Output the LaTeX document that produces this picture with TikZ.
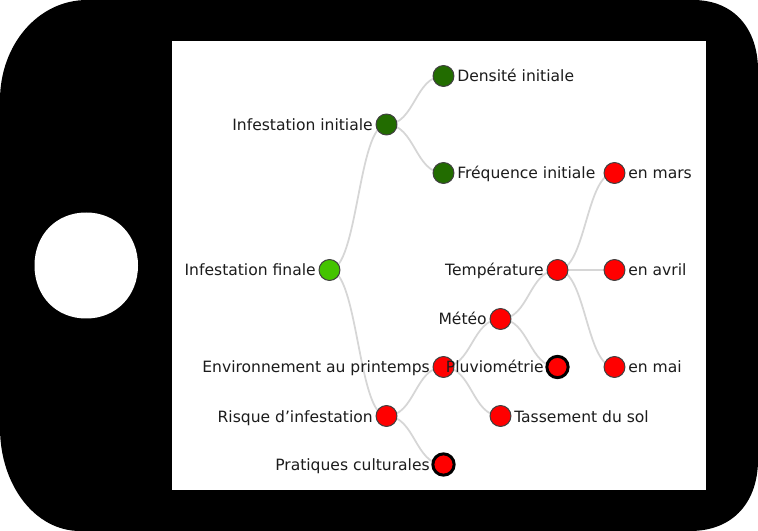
\documentclass[tikz,border=0pt]{standalone}
\usepackage{fontspec}
\setmainfont{DejaVu Sans}
\usetikzlibrary{calc}
\definecolor{lightg}{HTML}{44C400}
\definecolor{darkg}{HTML}{226C00}
\definecolor{linkc}{HTML}{D6D6D6}
\definecolor{txt}{HTML}{1C1C1C}
\tikzset{
  x=0.75pt,y=-0.75pt,
  dot/.style={circle,draw=black!75,line width=0.75pt,minimum size=15.7pt,inner sep=0pt},
  dotred/.style={dot,fill=red},
  dotgreen/.style={dot,fill=darkg},
  dotroot/.style={dot,fill=lightg},
  dotthick/.style={dotred,draw=black,line width=2.25pt,minimum size=16pt},
  linkline/.style={draw=linkc,line width=1.3pt},
  lab/.style={font=\fontsize{11.67}{14}\selectfont,text=txt,inner sep=0pt},
}
\newcommand{\lnk}[2]{\draw[linkline] let \p1=(#1.center),\p2=(#2.center),\n1={0.5*\x1+0.5*\x2} in (\p1) .. controls (\n1,\y1) and (\n1,\y2) .. (\p2);}
\begin{document}
\begin{tikzpicture}
\useasboundingbox (0,0) rectangle (758,531);
\fill[black] (0,100) .. controls (0,45) and (38,0) .. (87,0) -- (693,0) .. controls (735,0) and (758,30) .. (758,70)
  -- (758,460) .. controls (758,500) and (735,531) .. (690,531) -- (80,531) .. controls (35,531) and (0,485) .. (0,428) -- cycle;
\fill[white] (172,41) rectangle (706,490);
\fill[white] (86.2,212.5) .. controls (116,212.5) and (138,235) .. (138,265.5) .. controls (138,296) and (116,318.5) .. (86.2,318.5)
  .. controls (56,318.5) and (34.5,296) .. (34.5,265.5) .. controls (34.5,235) and (56,212.5) .. (86.2,212.5) -- cycle;
\coordinate (croot) at (329.5,270);
\coordinate (cini) at (386.5,124.5);
\coordinate (cden) at (443.5,76);
\coordinate (cfre) at (443.5,173);
\coordinate (crisk) at (386.5,416);
\coordinate (cenv) at (443.5,367);
\coordinate (cpra) at (443.5,464.5);
\coordinate (cmet) at (500.5,319);
\coordinate (ctas) at (500.5,416);
\coordinate (ctem) at (557.5,270);
\coordinate (cplu) at (557.5,367);
\coordinate (cmar) at (614.5,173);
\coordinate (cavr) at (614.5,270);
\coordinate (cmai) at (614.5,367);
\lnk{croot}{cini}\lnk{croot}{crisk}\lnk{cini}{cden}\lnk{cini}{cfre}
\lnk{crisk}{cenv}\lnk{crisk}{cpra}\lnk{cenv}{cmet}\lnk{cenv}{ctas}
\lnk{cmet}{ctem}\lnk{cmet}{cplu}\lnk{ctem}{cmar}\lnk{ctem}{cavr}\lnk{ctem}{cmai}
\node[dotroot] (root) at (croot) {};
\node[dotgreen] (ini) at (cini) {};
\node[dotgreen] (den) at (cden) {};
\node[dotgreen] (fre) at (cfre) {};
\node[dotred] (risk) at (crisk) {};
\node[dotred] (env) at (cenv) {};
\node[dotthick] (pra) at (cpra) {};
\node[dotred] (met) at (cmet) {};
\node[dotred] (tas) at (ctas) {};
\node[dotred] (tem) at (ctem) {};
\node[dotthick] (plu) at (cplu) {};
\node[dotred] (mar) at (cmar) {};
\node[dotred] (avr) at (cavr) {};
\node[dotred] (mai) at (cmai) {};
\node[lab,anchor=base east] (l1) at (316,276) {Infestation finale};
\node[lab,anchor=base east] (l2) at (373,130.5) {Infestation initiale};
\node[lab,anchor=base west] (l3) at (457,82) {Densité initiale};
\node[lab,anchor=base west] (l4) at (457,179) {Fréquence initiale};
\node[lab,anchor=base east] (l5) at (373,422) {Risque d’infestation};
\node[lab,anchor=base east] (l6) at (430,373) {Environnement au printemps};
\node[lab,anchor=base east] (l7) at (430,470.5) {Pratiques culturales};
\node[lab,anchor=base east] (l8) at (487,325) {Météo};
\node[lab,anchor=base west] (l9) at (514,422) {Tassement du sol};
\node[lab,anchor=base east] (l10) at (544,276) {Température};
\node[lab,anchor=base east] (l11) at (544,373) {Pluviométrie};
\node[lab,anchor=base west] (l12) at (628,179) {en mars};
\node[lab,anchor=base west] (l13) at (628,276) {en avril};
\node[lab,anchor=base west] (l14) at (628,373) {en mai};
\end{tikzpicture}
\end{document}
